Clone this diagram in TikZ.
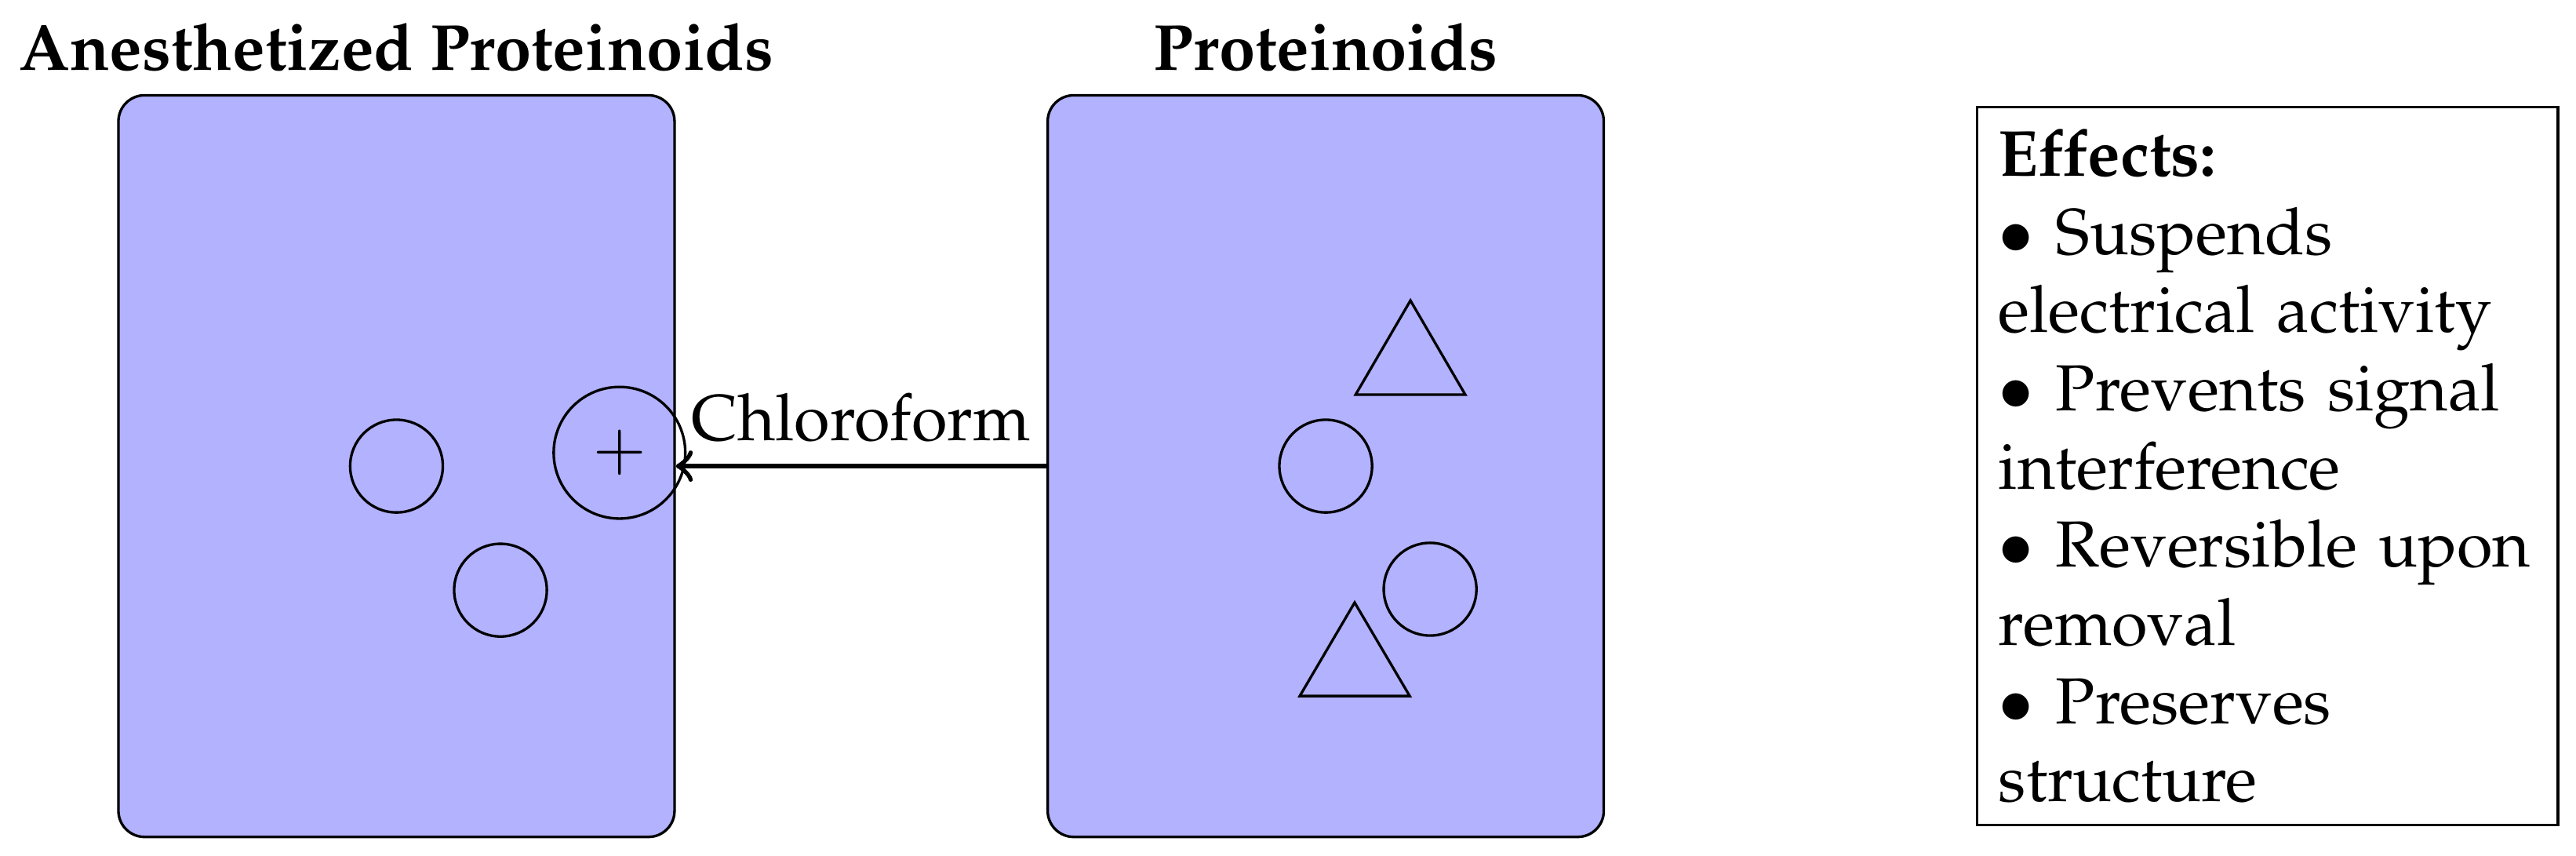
\documentclass[tikz,border=0pt]{standalone}
\usepackage[T1]{fontenc}
\usepackage{mathpazo}
\usetikzlibrary{positioning}
\begin{document}
\begin{tikzpicture}[
  panel/.style={draw, rounded corners, fill=blue!30, minimum width=3cm, minimum height=4cm, inner sep=0pt},
  cell/.style={draw, circle, minimum size=0.5cm, inner sep=0pt},
  bigcell/.style={draw, circle, minimum size=0.71cm, inner sep=0pt},
  paneltitle/.style={font=\bfseries},
  flow/.style={->, thick},
  effbox/.style={draw, text width=2.9cm, align=left, inner sep=0.3333em}
]
\useasboundingbox (-2.139,-2.099) rectangle (11.758,2.514);
% panels
\node[panel] (anes) at (0,0) {};
\node[panel] (prot) at (5.013,0) {};
\node[paneltitle, above=0pt of anes] (tA) {Anesthetized Proteinoids};
\node[paneltitle, above=0pt of prot] (tP) {Proteinoids};
% anesthetized contents
\node[cell] (a1) at (0,0) {};
\node[cell] (a2) at (0.561,-0.669) {};
\node[bigcell] (ax) at (1.203,0.072) {$+$};
% proteinoid contents
\node[cell] (p1) at (5.013,0) {};
\node[cell] (p2) at (5.576,-0.664) {};
\draw (5.174,0.385) -- (5.470,0.893) -- (5.766,0.385) -- cycle;
\draw (4.873,-1.240) -- (5.169,-0.736) -- (5.466,-1.240) -- cycle;
% connector
\draw[flow] (prot.west) -- node[above] {Chloroform} (anes.east);
% effects
\node[effbox] (fx) at (10.093,0) {\textbf{Effects:}\\
$\bullet$ Suspends\\
electrical activity\\
$\bullet$ Prevents signal\\
interference\\
$\bullet$ Reversible upon\\
removal\\
$\bullet$ Preserves\\
structure};
\end{tikzpicture}
\end{document}
